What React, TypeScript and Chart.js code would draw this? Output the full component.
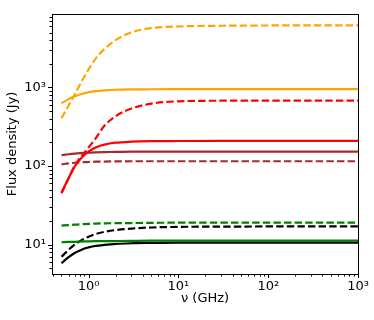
import React, { useEffect, useRef } from "react";
import { Chart, registerables } from "chart.js";

Chart.register(...registerables);

// Frequencies (GHz)
const nu = [0.5, 0.6, 0.7, 0.8, 0.9, 1.0, 1.2, 1.5, 2, 3, 5, 10, 30, 100, 1000];

// Flux densities (Jy)
const orangeDashed = [405, 590, 808, 1080, 1380, 1700, 2330, 3080, 4000, 5030, 5690, 5970, 6100, 6150, 6180];
const orangeSolid = [628, 710, 772, 815, 845, 868, 897, 920, 935, 944, 948, 950, 952, 952, 952];
const redDashed = [45, 70, 100, 126, 148, 172, 225, 325, 430, 540, 622, 666, 678, 680, 680];
const redSolid = [46, 70, 98, 120, 138, 152, 172, 187, 198, 204, 207, 208, 209, 209, 209];
const brownSolid = [137, 141, 144, 146, 147, 148, 149.5, 150.5, 151, 152, 152, 152, 152, 152, 152];
const brownDashed = [105, 108, 110, 111, 112, 112.5, 113.5, 114, 114.5, 115, 115, 115, 115, 115, 115];
const greenDashed = [17.4, 17.7, 17.9, 18.1, 18.2, 18.3, 18.5, 18.6, 18.7, 18.8, 18.9, 19.0, 19.0, 19.0, 19.0];
const greenSolid = [10.7, 10.8, 10.85, 10.9, 10.95, 11.0, 11.05, 11.05, 11.1, 11.15, 11.2, 11.2, 11.2, 11.2, 11.2];
const blackDashed = [7.0, 8.6, 10.0, 11.0, 11.9, 12.6, 13.6, 14.5, 15.3, 16.0, 16.5, 16.8, 16.9, 17.0, 17.0];
const blackSolid = [5.8, 6.9, 7.8, 8.4, 8.9, 9.2, 9.6, 9.9, 10.2, 10.4, 10.5, 10.6, 10.6, 10.6, 10.6];

// Axis ticks
const xMajorTicks = [1, 10, 100, 1000];
const xTickLabels = ["10\u2070", "10\u00b9", "10\u00b2", "10\u00b3"];
const yMajorTicks = [10, 100, 1000];
const yTickLabels = ["10\u00b9", "10\u00b2", "10\u00b3"];

const X_MIN = 0.392;
const X_MAX = 1000;
const Y_MIN = 4.22;
const Y_MAX = 8660;

const FONT = "'DejaVu Sans', sans-serif";

function logTickValues(min: number, max: number) {
  const out: { value: number; major: boolean }[] = [];
  const k0 = Math.floor(Math.log10(min));
  const k1 = Math.ceil(Math.log10(max));
  for (let k = k0; k <= k1; k++) {
    for (let m = 1; m <= 9; m++) {
      const v = parseFloat((m * Math.pow(10, k)).toPrecision(6));
      if (v >= min * 0.9999 && v <= max * 1.0001) out.push({ value: v, major: m === 1 });
    }
  }
  return out;
}

function labelFor(value: number, majors: number[], labels: string[]) {
  for (let i = 0; i < majors.length; i++) {
    if (Math.abs(value - majors[i]) / majors[i] < 1e-6) return labels[i];
  }
  return "";
}

const frameAndTicks = {
  id: "frameAndTicks",
  afterDraw(chart: any) {
    const { ctx, chartArea } = chart;
    const { left, right, top, bottom } = chartArea;
    ctx.save();
    ctx.strokeStyle = "#000";
    ctx.lineWidth = 1;
    const xs = chart.scales.x;
    const ys = chart.scales.y;
    ctx.beginPath();
    for (const t of xs.ticks) {
      const p = Math.round(xs.getPixelForValue(t.value)) + 0.5;
      if (p < left - 0.5 || p > right + 1) continue;
      const len = t.major ? 4 : 2.5;
      ctx.moveTo(p, bottom);
      ctx.lineTo(p, bottom + len);
    }
    for (const t of ys.ticks) {
      const p = Math.round(ys.getPixelForValue(t.value)) + 0.5;
      if (p < top - 0.5 || p > bottom + 1) continue;
      const len = t.major ? 4 : 2.5;
      ctx.moveTo(left, p);
      ctx.lineTo(left - len, p);
    }
    ctx.stroke();
    ctx.strokeRect(Math.round(left) + 0.5, Math.round(top) + 0.5, Math.round(right - left), Math.round(bottom - top));
    ctx.restore();
  },
};

function series(label: string, values: number[], color: string, dashed: boolean) {
  return {
    label,
    data: nu.map((x, i) => ({ x, y: values[i] })),
    borderColor: color,
    backgroundColor: color,
    borderWidth: 2.2,
    borderDash: dashed ? [7.4, 3.2] : [],
    pointRadius: 0,
    fill: false,
    cubicInterpolationMode: "monotone" as const,
  };
}

export default function App() {
  const ref = useRef<HTMLCanvasElement | null>(null);

  useEffect(() => {
    document.body.style.margin = "0";
    const canvas = ref.current;
    if (!canvas) return;
    const chart = new Chart(canvas, {
      type: "line",
      data: {
        datasets: [
          series("orange dashed", orangeDashed, "#FFA500", true),
          series("orange solid", orangeSolid, "#FFA500", false),
          series("red dashed", redDashed, "#FF0000", true),
          series("red solid", redSolid, "#FF0000", false),
          series("brown solid", brownSolid, "#A52A2A", false),
          series("brown dashed", brownDashed, "#A52A2A", true),
          series("green dashed", greenDashed, "#008000", true),
          series("green solid", greenSolid, "#008000", false),
          series("black dashed", blackDashed, "#000000", true),
          series("black solid", blackSolid, "#000000", false),
        ],
      },
      options: {
        animation: false,
        responsive: false,
        devicePixelRatio: 1,
        layout: { padding: { left: 0, right: 12, top: 9, bottom: 0 } },
        plugins: { legend: { display: false }, tooltip: { enabled: false } },
        scales: {
          x: {
            type: "logarithmic",
            min: X_MIN,
            max: X_MAX,
            afterBuildTicks: (scale: any) => {
              scale.ticks = logTickValues(X_MIN, X_MAX);
            },
            afterFit: (scale: any) => {
              scale.height = 46;
            },
            grid: { display: false, drawTicks: false, drawOnChartArea: false },
            border: { display: false },
            ticks: {
              autoSkip: false,
              maxRotation: 0,
              minRotation: 0,
              padding: 5,
              color: "#000",
              font: { family: FONT, size: 13 },
              callback: (value: any) => labelFor(Number(value), xMajorTicks, xTickLabels),
            },
            title: {
              display: true,
              text: "\u03bd (GHz)",
              color: "#000",
              font: { family: FONT, size: 13 },
              padding: { top: 14, bottom: 14 },
            },
          },
          y: {
            type: "logarithmic",
            min: Y_MIN,
            max: Y_MAX,
            afterBuildTicks: (scale: any) => {
              scale.ticks = logTickValues(Y_MIN, Y_MAX);
            },
            afterFit: (scale: any) => {
              scale.width = 52;
            },
            grid: { display: false, drawTicks: false, drawOnChartArea: false },
            border: { display: false },
            ticks: {
              autoSkip: false,
              padding: 6,
              color: "#000",
              font: { family: FONT, size: 13 },
              callback: (value: any) => labelFor(Number(value), yMajorTicks, yTickLabels),
            },
            title: {
              display: true,
              text: "Flux density (Jy)",
              color: "#000",
              font: { family: FONT, size: 13 },
              padding: { top: 5, bottom: 5 },
            },
          },
        },
      },
      plugins: [frameAndTicks],
    });
    return () => chart.destroy();
  }, []);

  return (
    <div style={{ position: "fixed", left: 0, top: 0, width: 374, height: 320, background: "#fff" }}>
      <canvas ref={ref} width={374} height={320} style={{ display: "block" }} />
    </div>
  );
}
